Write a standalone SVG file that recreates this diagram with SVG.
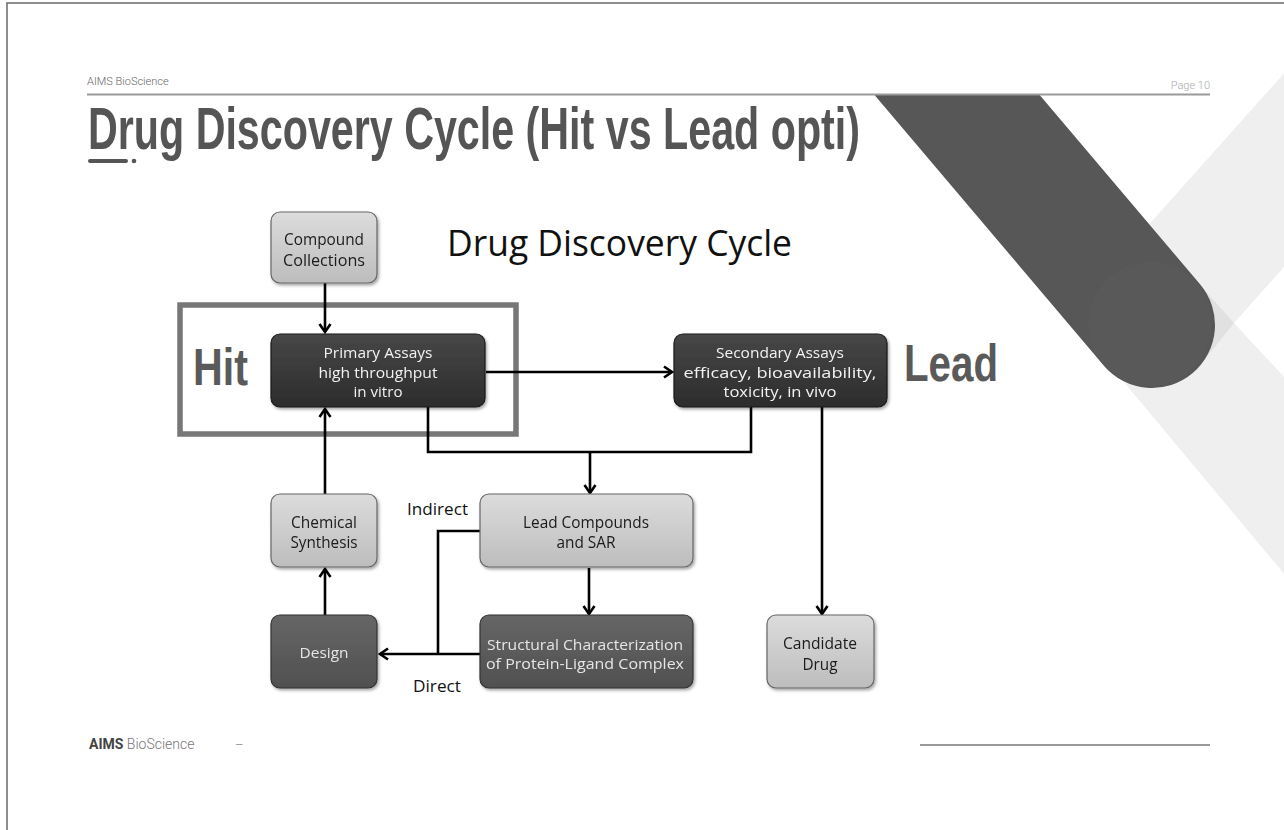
<svg xmlns="http://www.w3.org/2000/svg" width="1284" height="830" viewBox="0 0 1284 830">
<style>
.hdr{font-family:Roboto,"Liberation Sans",sans-serif;font-weight:300;font-size:11px;fill:#666}
.title{font-family:"Liberation Sans",Arial,sans-serif;font-weight:bold;fill:#555}
.big{font-family:"Liberation Sans",Arial,sans-serif;font-weight:bold;fill:#5a5a5a}
.nt{font-family:"Open Sans","DejaVu Sans",sans-serif;font-size:16px;fill:#1a1a1a;text-anchor:middle}
.dt{font-family:"Open Sans","DejaVu Sans",sans-serif;font-size:14.5px;fill:#f2f2f2;text-anchor:middle}
.mt{font-family:"Open Sans","DejaVu Sans",sans-serif;font-size:15px;fill:#e6e6e6;text-anchor:middle}
.lbl{font-family:"Open Sans","DejaVu Sans",sans-serif;font-size:17px;fill:#111}
.light{fill:url(#gl);stroke:#666;stroke-width:1.2}
.dark{fill:url(#gd);stroke:#1a1a1a;stroke-width:1.2}
.mid{fill:url(#gm);stroke:#333;stroke-width:1.2}
.con{fill:none;stroke:#000;stroke-width:2.6}
</style>
<defs>
<linearGradient id="gl" x1="0" y1="0" x2="0" y2="1"><stop offset="0" stop-color="#dcdcdc"/><stop offset="1" stop-color="#bdbdbd"/></linearGradient>
<linearGradient id="gd" x1="0" y1="0" x2="0" y2="1"><stop offset="0" stop-color="#474747"/><stop offset="1" stop-color="#2c2c2c"/></linearGradient>
<linearGradient id="gm" x1="0" y1="0" x2="0" y2="1"><stop offset="0" stop-color="#666"/><stop offset="1" stop-color="#505050"/></linearGradient>
<filter id="sh" x="-10%" y="-10%" width="125%" height="130%"><feDropShadow dx="1.5" dy="2" stdDeviation="1.5" flood-color="#000" flood-opacity="0.35"/></filter>
<clipPath id="below"><rect x="0" y="94" width="1284" height="736"/></clipPath>
<marker id="arr" markerWidth="14" markerHeight="14" refX="11" refY="7" orient="auto" markerUnits="userSpaceOnUse"><path d="M3,1.5 L11,7 L3,12.5" fill="none" stroke="#000" stroke-width="2.6"/></marker>
</defs>
<rect x="0" y="0" width="1284" height="830" fill="#fff"/>
<path d="M7,830 V3 H1284" fill="none" stroke="#6a6a6a" stroke-width="1.5"/>
<g id="decor">
<polygon points="1296,60 1068,315 1300,593 1300,394 1234,323 1300,249" fill="#efefef"/>
<polygon points="1192,276 1234,323 1198,368" fill="#e1e1e1"/>
<g clip-path="url(#below)">
<line x1="902" y1="30" x2="1152" y2="325" stroke="#575757" stroke-width="126" stroke-linecap="round"/>
<circle cx="1150" cy="324" r="62" fill="#595959"/>
</g>
</g>
<g id="header">
<text class="hdr" x="87" y="85">AIMS BioScience</text>
<text class="hdr" x="1210" y="89" text-anchor="end" style="fill:#aaa">Page 10</text>
<line x1="87" y1="94.5" x2="1210" y2="94.5" stroke="#9a9a9a" stroke-width="2"/>
<text class="title" x="88" y="149" font-size="60" textLength="772" lengthAdjust="spacingAndGlyphs">Drug Discovery Cycle (Hit vs Lead opti)</text>
<line x1="90" y1="161" x2="126" y2="161" stroke="#555" stroke-width="4" stroke-linecap="round"/>
<circle cx="134" cy="161" r="2.3" fill="#555"/>
</g>
<text x="447" y="256" font-family="'Open Sans','DejaVu Sans',sans-serif" font-size="36" fill="#111" textLength="345" lengthAdjust="spacingAndGlyphs">Drug Discovery Cycle</text>
<g id="hit">
<rect x="180" y="305" width="336" height="129" fill="none" stroke="#777" stroke-width="5.5"/>
<text class="big" x="193" y="385" font-size="52" textLength="55" lengthAdjust="spacingAndGlyphs">Hit</text>
</g>
<g id="lead-label">
<text class="big" x="904" y="381" font-size="52" textLength="94" lengthAdjust="spacingAndGlyphs">Lead</text>
</g>
<g id="connectors">
<line class="con" x1="325" y1="283" x2="325" y2="332" marker-end="url(#arr)"/>
<line class="con" x1="486" y1="372" x2="672" y2="372" marker-end="url(#arr)"/>
<path class="con" d="M428,407 V452 H751 V407"/>
<line class="con" x1="590" y1="452" x2="590" y2="493" marker-end="url(#arr)"/>
<line class="con" x1="822" y1="407" x2="822" y2="614" marker-end="url(#arr)"/>
<line class="con" x1="325" y1="494" x2="325" y2="409" marker-end="url(#arr)"/>
<line class="con" x1="325" y1="615" x2="325" y2="569" marker-end="url(#arr)"/>
<line class="con" x1="589" y1="568" x2="589" y2="614" marker-end="url(#arr)"/>
<path class="con" d="M480,531 H438 V654"/>
<line class="con" x1="480" y1="654" x2="380" y2="654" stroke-width="3.4" marker-end="url(#arr)"/>
<text class="lbl" x="407" y="515" textLength="61" lengthAdjust="spacingAndGlyphs">Indirect</text>
<text class="lbl" x="413" y="692" textLength="48" lengthAdjust="spacingAndGlyphs">Direct</text>
</g>
<g id="compound" filter="url(#sh)">
<rect class="light" x="271" y="212" width="106" height="71" rx="9"/>
<text class="nt" x="324" y="245" textLength="80" lengthAdjust="spacingAndGlyphs">Compound</text>
<text class="nt" x="324" y="266" textLength="82" lengthAdjust="spacingAndGlyphs">Collections</text>
</g>
<g id="primary" filter="url(#sh)">
<rect class="dark" x="271" y="334" width="214" height="73" rx="9"/>
<text class="dt" x="378" y="358" textLength="109" lengthAdjust="spacingAndGlyphs">Primary Assays</text>
<text class="dt" x="378" y="378" textLength="119" lengthAdjust="spacingAndGlyphs">high throughput</text>
<text class="dt" x="378" y="397" textLength="49" lengthAdjust="spacingAndGlyphs">in vitro</text>
</g>
<g id="secondary" filter="url(#sh)">
<rect class="dark" x="674" y="334" width="213" height="73" rx="9"/>
<text class="dt" x="780" y="358" textLength="128" lengthAdjust="spacingAndGlyphs">Secondary Assays</text>
<text class="dt" x="780" y="378" textLength="193" lengthAdjust="spacingAndGlyphs">efficacy, bioavailability,</text>
<text class="dt" x="780" y="397" textLength="113" lengthAdjust="spacingAndGlyphs">toxicity, in vivo</text>
</g>
<g id="chemical" filter="url(#sh)">
<rect class="light" x="271" y="494" width="106" height="73" rx="9"/>
<text class="nt" x="324" y="528" textLength="66" lengthAdjust="spacingAndGlyphs">Chemical</text>
<text class="nt" x="324" y="548" textLength="67" lengthAdjust="spacingAndGlyphs">Synthesis</text>
</g>
<g id="leadcompounds" filter="url(#sh)">
<rect class="light" x="480" y="494" width="213" height="73" rx="9"/>
<text class="nt" x="586" y="528" textLength="126" lengthAdjust="spacingAndGlyphs">Lead Compounds</text>
<text class="nt" x="586" y="548" textLength="59" lengthAdjust="spacingAndGlyphs">and SAR</text>
</g>
<g id="design" filter="url(#sh)">
<rect class="mid" x="271" y="615" width="106" height="73" rx="9"/>
<text class="mt" x="324" y="658" textLength="49" lengthAdjust="spacingAndGlyphs">Design</text>
</g>
<g id="structural" filter="url(#sh)">
<rect class="mid" x="480" y="615" width="213" height="73" rx="9"/>
<text class="mt" x="585" y="650" textLength="196" lengthAdjust="spacingAndGlyphs">Structural Characterization</text>
<text class="mt" x="585" y="669" textLength="198" lengthAdjust="spacingAndGlyphs">of Protein-Ligand Complex</text>
</g>
<g id="candidate" filter="url(#sh)">
<rect class="light" x="767" y="615" width="107" height="73" rx="9"/>
<text class="nt" x="820" y="649" textLength="74" lengthAdjust="spacingAndGlyphs">Candidate</text>
<text class="nt" x="820" y="670" textLength="35" lengthAdjust="spacingAndGlyphs">Drug</text>
</g>
<g id="footer">
<text x="89" y="749" font-family="Roboto,'Liberation Sans',sans-serif" font-size="14" fill="#444"><tspan font-weight="bold">AIMS</tspan><tspan font-weight="300" fill="#777"> BioScience</tspan></text>
<text x="235" y="749" font-family="Roboto,'Liberation Sans',sans-serif" font-size="13" font-weight="300" fill="#777">–</text>
<line x1="920" y1="745" x2="1210" y2="745" stroke="#999" stroke-width="2"/>
</g>
</svg>
